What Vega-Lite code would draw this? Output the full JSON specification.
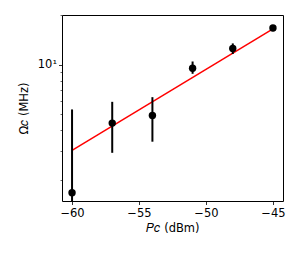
{
  "$schema": "https://vega.github.io/schema/vega-lite/v6.json",
  "width": 221,
  "height": 186,
  "autosize": {"type": "none"},
  "padding": {"left": 62, "top": 15, "right": 15, "bottom": 54},
  "background": "white",
  "config": {
    "view": {"stroke": "black", "strokeWidth": 1},
    "axis": {
      "domain": false,
      "grid": false,
      "labelFont": "DejaVu Sans",
      "labelFontSize": 11.5,
      "labelColor": "black",
      "titleFont": "DejaVu Sans",
      "titleFontSize": 11.5,
      "titleFontWeight": "normal",
      "titleColor": "black",
      "tickColor": "black"
    }
  },
  "datasets": {
    "points": [
      {"P": -60, "Omega": 1.67, "low": 1.0, "high": 5.35},
      {"P": -57, "Omega": 4.42, "low": 2.92, "high": 5.95},
      {"P": -54, "Omega": 4.92, "low": 3.41, "high": 6.35},
      {"P": -51, "Omega": 9.5, "low": 8.8, "high": 10.45},
      {"P": -48, "Omega": 12.55, "low": 11.6, "high": 13.45},
      {"P": -45, "Omega": 16.7, "low": 15.9, "high": 17.4}
    ],
    "fit": [
      {"P": -60, "Omega": 3.02},
      {"P": -45, "Omega": 16.5}
    ]
  },
  "encoding": {
    "x": {
      "field": "P",
      "type": "quantitative",
      "scale": {"domain": [-60.75, -44.25], "nice": false, "zero": false},
      "axis": {
        "title": "𝑃𝑐 (dBm)",
        "values": [-60, -55, -50, -45],
        "tickSize": 3.5,
        "tickWidth": 0.8,
        "labelPadding": 3,
        "titlePadding": 3
      }
    },
    "y": {
      "field": "Omega",
      "type": "quantitative",
      "scale": {"type": "log", "domain": [1.49, 20], "nice": false},
      "axis": {
        "title": "Ω𝑐 (MHz)",
        "values": [2, 3, 4, 5, 6, 7, 8, 9, 10, 20],
        "labelExpr": "datum.value == 10 ? '10¹' : ''",
        "tickSize": {"condition": {"test": "datum.value == 10", "value": 3.5}, "value": 2},
        "tickWidth": {"condition": {"test": "datum.value == 10", "value": 0.8}, "value": 0.6},
        "labelPadding": 2,
        "titlePadding": 8
      }
    }
  },
  "layer": [
    {
      "data": {"name": "fit"},
      "mark": {"type": "line", "color": "#ff0000", "strokeWidth": 1.5, "clip": true}
    },
    {
      "data": {"name": "points"},
      "mark": {"type": "rule", "color": "black", "strokeWidth": 2, "clip": true},
      "encoding": {
        "y": {"field": "low", "type": "quantitative"},
        "y2": {"field": "high"}
      }
    },
    {
      "data": {"name": "points"},
      "mark": {"type": "circle", "color": "black", "opacity": 1, "size": 55, "clip": false}
    }
  ]
}
